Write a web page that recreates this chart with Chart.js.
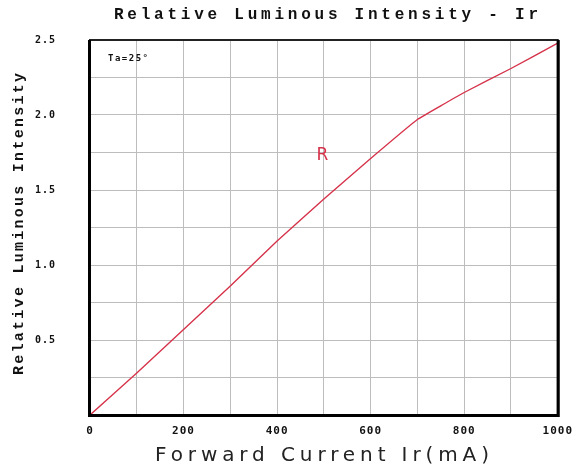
<!DOCTYPE html>
<html>
<head>
<meta charset="utf-8">
<script src="https://cdn.jsdelivr.net/npm/chart.js@4.4.1/dist/chart.umd.min.js"></script>
<style>
  html, body { margin: 0; padding: 0; background: #fff; }
  #wrap { width: 581px; height: 474px; }
</style>
</head>
<body>
<div id="wrap"><canvas id="c"></canvas></div>
<script>
// ── Data ──
const currentMA = [0, 100, 200, 300, 400, 500, 600, 700, 800, 900, 1000];
const relIntensity = [0, 0.28, 0.57, 0.86, 1.16, 1.44, 1.71, 1.97, 2.15, 2.31, 2.48];
const xTickLabels = [0, 200, 400, 600, 800, 1000];
const yTickLabels = [0.5, 1.0, 1.5, 2.0, 2.5];

const titleText = 'Relative Luminous Intensity - Ir';
const xTitle = 'Forward Current Ir(mA)';
const yTitle = 'Relative Luminous Intensity';
const seriesLabel = 'R';
const condText = 'Ta=25°';

const RED = '#d6334b';

// draw text stretched to a given width using letterSpacing
function spacedText(ctx, text, cx, cy, width, font) {
    ctx.font = font;
    ctx.letterSpacing = '0px';
    const w = ctx.measureText(text).width;
    const sp = Math.max(0, (width - w) / (text.length - 1));
    ctx.letterSpacing = sp + 'px';
    ctx.textAlign = 'left';
    ctx.textBaseline = 'middle';
    ctx.fillText(text, cx - width / 2, cy);
    ctx.letterSpacing = '0px';
}

const textPlugin = {
    id: 'texts',
    beforeDraw(chart) { chart.ctx.letterSpacing = '1px'; },
    afterDraw(chart) {
        const { ctx, chartArea: a, scales } = chart;
        ctx.save();
        // frame
        ctx.strokeStyle = '#222';
        ctx.lineWidth = 2;
        ctx.strokeRect(a.left, a.top, a.right - a.left, a.bottom - a.top);
        ctx.fillStyle = '#000';
        ctx.fillRect(a.left - 2, a.top, 3, a.bottom - a.top + 2);
        ctx.fillRect(a.left - 2, a.bottom - 1, a.right - a.left + 2, 3);
        ctx.fillRect(a.right - 1, a.top, 3, a.bottom - a.top + 2);

        ctx.fillStyle = '#111';
        spacedText(ctx, titleText, 326, 15, 424, 'bold 16px "Liberation Mono"');

        ctx.save();
        ctx.translate(19, 224);
        ctx.rotate(-Math.PI / 2);
        spacedText(ctx, yTitle, 0, 0, 302, 'bold 15px "Liberation Mono"');
        ctx.restore();

        ctx.fillStyle = '#222';
        spacedText(ctx, xTitle, 322, 456, 334, '20px "DejaVu Sans"');

        ctx.fillStyle = '#111';
        spacedText(ctx, condText, a.left + 38, a.top + 19, 40, 'bold 9px "DejaVu Sans Mono"');

        ctx.fillStyle = RED;
        ctx.font = '17px "DejaVu Sans"';
        ctx.textAlign = 'center';
        ctx.textBaseline = 'middle';
        ctx.fillText(seriesLabel, scales.x.getPixelForValue(497), scales.y.getPixelForValue(1.73));
        ctx.restore();
    }
};

new Chart(document.getElementById('c'), {
    type: 'scatter',
    data: {
        datasets: [{
            label: seriesLabel,
            data: currentMA.map((x, i) => ({ x, y: relIntensity[i] })),
            showLine: true,
            borderColor: RED,
            borderWidth: 1.4,
            pointRadius: 0,
            tension: 0.08,
        }]
    },
    options: {
        responsive: true,
        maintainAspectRatio: false,
        animation: false,
        layout: { padding: { left: 0, top: 39, right: 19, bottom: 0 } },
        scales: {
            x: {
                type: 'linear', min: 0, max: 1000,
                afterFit: s => { s.height = 59; },
                ticks: {
                    stepSize: 100, padding: 10, color: '#111',
                    font: { family: '"DejaVu Sans Mono"', size: 11, weight: 'bold' },
                    callback: v => xTickLabels.includes(v) ? String(v) : ''
                },
                grid: { color: '#bdbdbd', lineWidth: 1, drawTicks: false },
                border: { display: false }
            },
            y: {
                min: 0, max: 2.5,
                afterFit: s => { s.width = 90; },
                ticks: {
                    stepSize: 0.25, padding: 34, color: '#111',
                    font: { family: '"DejaVu Sans Mono"', size: 10, weight: 'bold' },
                    callback: v => yTickLabels.some(t => Math.abs(t - v) < 1e-6) ? v.toFixed(1) : ''
                },
                grid: { color: '#bdbdbd', lineWidth: 1, drawTicks: false },
                border: { display: false }
            }
        },
        plugins: {
            legend: { display: false },
            tooltip: { enabled: false }
        }
    },
    plugins: [textPlugin]
});
</script>
</body>
</html>
